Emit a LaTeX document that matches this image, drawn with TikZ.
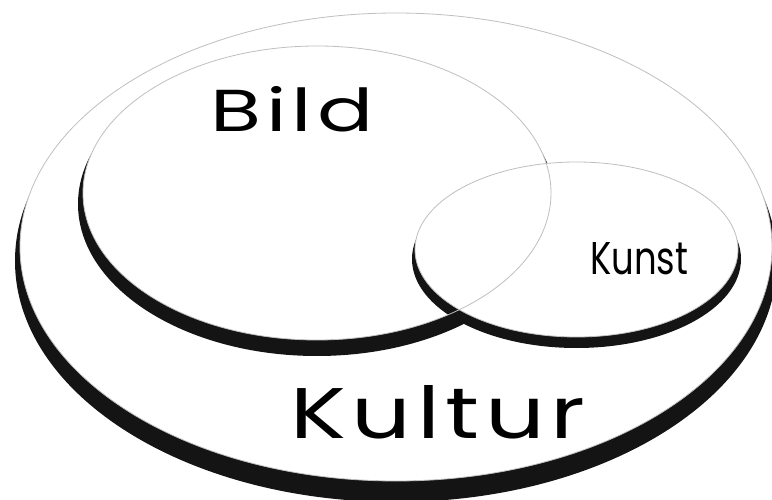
\documentclass[tikz,border=0pt]{standalone}
\usepackage{fontspec}
\newfontfamily\venfont{Poppins}
\newfontfamily\widefont[LetterSpace=6]{Poppins}
\tikzset{
  shade/.style={fill=black!92},
  face/.style={fill=white},
  rim/.style={draw=black!25, line width=0.8pt},
  word/.style={inner sep=0pt, anchor=base west, font=\venfont},
}
\begin{document}
\begin{tikzpicture}[x=1pt,y=-1pt]
  \useasboundingbox (0,0) rectangle (772,500);
  \clip (0,0) rectangle (772,500);
  % Kultur
  \fill[shade] (396,261) ellipse [x radius=381pt, y radius=241pt];
  \path[face,rim] (396,247) ellipse [x radius=376pt, y radius=234pt];
  % Bild
  \fill[shade] (317,204) ellipse [x radius=239pt, y radius=152pt];
  \fill[face] (317,193) ellipse [x radius=234pt, y radius=147pt];
  % Kunst
  \fill[shade] (576.5,259) ellipse [x radius=164.5pt, y radius=89pt];
  \fill[face] (576.5,249.5) ellipse [x radius=161.5pt, y radius=87.5pt];
  % thin rims on top
  \draw[rim] (317,193) ellipse [x radius=234pt, y radius=147pt];
  \draw[rim] (576.5,249.5) ellipse [x radius=161.5pt, y radius=87.5pt];
  \path (210,132) node[word] (bild) {\resizebox{163pt}{45pt}{\widefont Bild}};
  \path (590,275) node[word] (kunst) {\resizebox{98pt}{32pt}{Kunst}};
  \path (290,438) node[word] (kultur) {\resizebox{295pt}{53pt}{\widefont Kultur}};
\end{tikzpicture}
\end{document}
